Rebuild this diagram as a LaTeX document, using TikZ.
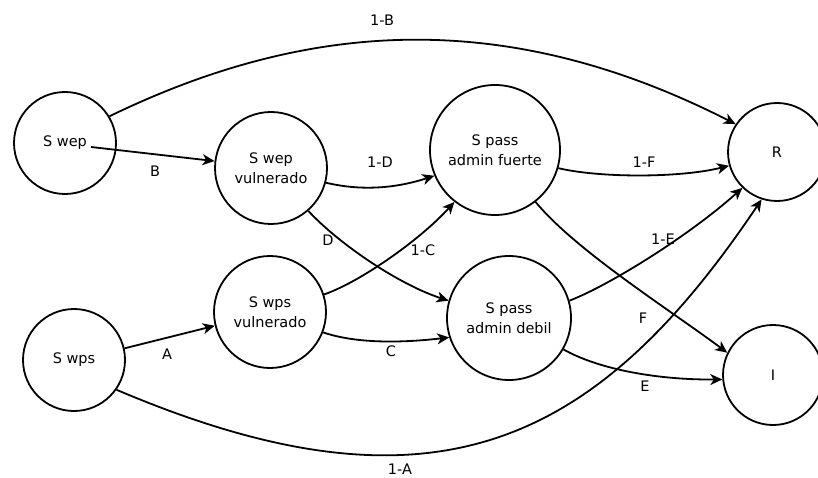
\documentclass[tikz,border=0pt]{standalone}
\usepackage{fontspec}
\setmainfont{DejaVu Sans}
\usetikzlibrary{arrows.meta}
\begin{document}
\begin{tikzpicture}[x=1pt,y=-1pt,
  state/.style={circle,draw,line width=1.8pt,inner sep=0pt,align=center,font=\fontsize{14.5}{20}\selectfont},
  lbl/.style={font=\fontsize{14.5}{17}\selectfont,inner sep=0pt},
  edge/.style={line width=1.8pt,-{Stealth[length=12pt,width=11pt,inset=3.5pt]}}]
\useasboundingbox (0,0) rectangle (818,478);
\clip (0,0) rectangle (818,478);
% states
\node[state,minimum size=102pt] (swep)   at (65,143)  {S wep};
\node[state,minimum size=112pt] (swepv)  at (271,168) {S wep\\vulnerado};
\node[state,minimum size=130pt] (fuerte) at (495,150) {S pass\\admin fuerte};
\node[state,minimum size=98pt]  (R)      at (777,152) {R};
\node[state,minimum size=102pt] (wps)    at (74,360)  {S wps};
\node[state,minimum size=112pt] (wpsv)   at (270,312) {S wps\\vulnerado};
\node[state,minimum size=124pt] (debil)  at (509,318) {S pass\\admin debil};
\node[state,minimum size=100pt] (I)      at (773,375) {I};
% connectors
\draw[edge] ([shift={(26,4)}]swep.center) -- (swepv.173);
\draw[edge] (swep.31) .. controls (308,20) and (506,7) .. (R.146);
\draw[edge] (swepv.-15) .. controls (365,192) and (400,187) .. (fuerte.203);
\draw[edge] (swepv.-49) .. controls (340,245) and (400,285) .. (debil.164);
\draw[edge] (wps.13) -- (wpsv.194);
\draw[edge] (wps.-35) .. controls (430,523) and (594,449) .. (R.252);
\draw[edge] (wpsv.18) .. controls (360,282) and (420,240) .. (fuerte.232);
\draw[edge] (wpsv.-21) .. controls (360,345) and (410,342) .. (debil.198);
\draw[edge] (fuerte.-16) .. controls (600,178) and (680,178) .. (R.196);
\draw[edge] (fuerte.-52) .. controls (575,250) and (670,310) .. (I.154);
\draw[edge] (debil.16) .. controls (610,285) and (690,235) .. (R.226);
\draw[edge] (debil.-30) .. controls (600,370) and (660,380) .. (I.185);
% labels
\node[lbl] (l1B) at (382,20)  {1-B};
\node[lbl] (lB)  at (155,171) {B};
\node[lbl] (l1D) at (380,162) {1-D};
\node[lbl] (lD)  at (328,240) {D};
\node[lbl] (l1C) at (423,250) {1-C};
\node[lbl] (lA)  at (167,354) {A};
\node[lbl] (lC)  at (391,351) {C};
\node[lbl] (l1F) at (644,162) {1-F};
\node[lbl] (lF)  at (643,318) {F};
\node[lbl] (l1E) at (663,239) {1-E};
\node[lbl] (lE)  at (645,386) {E};
\node[lbl] (l1A) at (400,469) {1-A};
\end{tikzpicture}
\end{document}
